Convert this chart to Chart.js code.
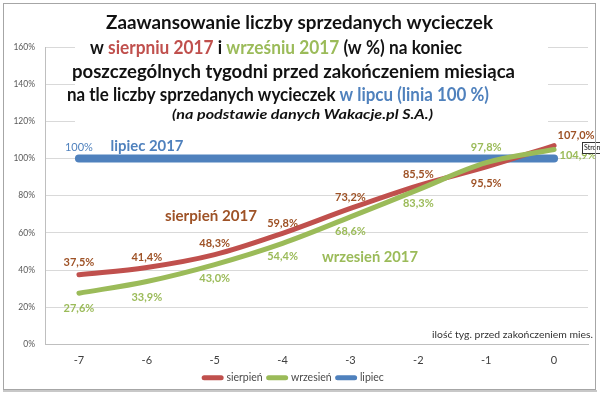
<!DOCTYPE html>
<html><head><meta charset="utf-8">
<script src="https://cdn.jsdelivr.net/npm/chart.js@4.4.1/dist/chart.umd.min.js"></script>
<style>html,body{margin:0;padding:0;background:#fff}#c{display:block}</style>
</head><body>
<canvas id="c" width="600" height="393" style="width:600px;height:393px"></canvas>
<script>
// ---- data ----
const categories = ['-7','-6','-5','-4','-3','-2','-1','0'];
const sierpien = [37.5, 41.4, 48.3, 59.8, 73.2, 85.5, 95.5, 107.0];
const wrzesien = [27.6, 33.9, 43.0, 54.4, 68.6, 83.3, 97.8, 104.9];
const lipiec = [100, 100, 100, 100, 100, 100, 100, 100];
const yTickValues = [0, 20, 40, 60, 80, 100, 120, 140, 160];
const seriesNames = ['sierpień', 'wrzesień', 'lipiec'];

// ---- styling / placement ----
const C_RED = '#C0504D', C_GREEN = '#9BBB59', C_BLUE = '#4F81BD', C_BROWN = '#9E5226';
const FONT = 'Lato, "Open Sans", sans-serif';
const labelOffsets = {
  0: [[0,-12],[0,-10],[0,-11],[0,-10],[0,-11],[0,-11],[0,17],[22,-10]],
  1: [[0,15],[0,16],[0,14],[0,13],[0,15],[0,14],[0,-15],[24,6]],
  2: [[0,-11]]
};

function fitSize(ctx, text, style, target, base) {
  ctx.font = style + ' ' + base + 'px ' + FONT;
  return base * target / ctx.measureText(text).width;
}

const overlay = {
  id: 'overlay',
  beforeDatasetsDraw(chart) {
    const ctx = chart.ctx;
    ctx.save();
    ctx.fillStyle = '#fff';
    ctx.fillRect(75, 5, 473, 123);
    // title: [left, right, baseline, segments]
    const lines = [
      {l: 106, r: 493, y: 29, s: [['Zaawansowanie liczby sprzedanych wycieczek', '#111']]},
      {l: 90, r: 462, y: 54, s: [['w ', '#111'], ['sierpniu 2017', C_RED], [' i ', '#111'], ['wrześniu 2017', C_GREEN], [' (w %) na koniec', '#111']]},
      {l: 72, r: 515, y: 78, s: [['poszczególnych tygodni przed zakończeniem miesiąca', '#111']]},
      {l: 67, r: 489, y: 101, s: [['na tle liczby sprzedanych wycieczek ', '#111'], ['w lipcu (linia 100 %)', C_BLUE]]},
      {l: 172, r: 433, y: 119, s: [['(na podstawie danych Wakacje.pl S.A.)', '#111']], italic: true}
    ];
    ctx.textBaseline = 'alphabetic';
    ctx.textAlign = 'left';
    lines.forEach(l => {
      ctx.font = (l.italic ? 'italic bold 13px ' : 'bold 19px ') + FONT;
      const w = l.s.reduce((a, p) => a + ctx.measureText(p[0]).width, 0);
      const k = (l.r - l.l) / w;
      ctx.save();
      ctx.translate(l.l, l.y);
      ctx.scale(k, 1);
      let x = 0;
      l.s.forEach(p => { ctx.fillStyle = p[1]; ctx.fillText(p[0], x, 0); x += ctx.measureText(p[0]).width; });
      ctx.restore();
    });
    ctx.restore();
  },
  afterDatasetsDraw(chart) {
    const ctx = chart.ctx;
    ctx.save();
    ctx.textAlign = 'center';
    ctx.textBaseline = 'middle';
    // data labels
    chart.data.datasets.forEach((ds, di) => {
      const meta = chart.getDatasetMeta(di);
      const offs = labelOffsets[di];
      ds.data.forEach((v, i) => {
        if (!offs[i]) return;
        const pt = meta.data[i];
        const txt = di === 2 ? v.toFixed(0) + '%' : v.toFixed(1).replace('.', ',') + '%';
        ctx.font = (di === 2 ? '' : 'bold ') + '11px ' + FONT;
        ctx.fillStyle = di === 0 ? C_BROWN : (di === 1 ? C_GREEN : C_BLUE);
        ctx.fillText(txt, pt.x + offs[i][0], pt.y + offs[i][1]);
      });
    });
    // series annotations
    const ann = [
      ['lipiec 2017', C_BLUE, 147, 146, 73],
      ['sierpień 2017', C_BROWN, 211, 216, 92],
      ['wrzesień 2017', C_GREEN, 370, 257, 96]
    ];
    ann.forEach(a => {
      const sz = fitSize(ctx, a[0], 'bold', a[4], 15);
      ctx.font = 'bold ' + sz + 'px ' + FONT;
      ctx.fillStyle = a[1];
      ctx.fillText(a[0], a[2], a[3]);
    });
    // axis note
    const nt = 'ilość tyg. przed zakończeniem mies.';
    const ns = fitSize(ctx, nt, '', 161, 10);
    ctx.font = ns + 'px ' + FONT;
    ctx.fillStyle = '#333';
    ctx.textAlign = 'right';
    ctx.fillText(nt, 593, 335);
    // tooltip artifact
    ctx.fillStyle = '#fff';
    ctx.fillRect(582, 142, 18, 12);
    ctx.strokeStyle = '#333';
    ctx.lineWidth = 1;
    ctx.strokeRect(582.5, 142.5, 20, 11);
    ctx.fillStyle = '#111';
    ctx.font = '7px ' + FONT;
    ctx.textAlign = 'left';
    ctx.fillText('Stron', 584, 148);
    ctx.restore();
  },
  afterDraw(chart) {
    const ctx = chart.ctx;
    ctx.save();
    ctx.strokeStyle = '#a6a6a6';
    ctx.lineWidth = 1;
    ctx.strokeRect(3.5, 3.5, 592, 386);
    ctx.fillStyle = '#c8c8c8';
    ctx.fillRect(3, 390, 594, 2);
    ctx.restore();
  }
};

new Chart(document.getElementById('c'), {
  type: 'line',
  data: {
    labels: categories,
    datasets: [
      {label: seriesNames[0], data: sierpien, borderColor: C_RED, backgroundColor: C_RED, borderWidth: 5, order: 1},
      {label: seriesNames[1], data: wrzesien, borderColor: C_GREEN, backgroundColor: C_GREEN, borderWidth: 5, order: 0},
      {label: seriesNames[2], data: lipiec, borderColor: C_BLUE, backgroundColor: C_BLUE, borderWidth: 8, order: 2}
    ]
  },
  options: {
    responsive: false,
    animation: false,
    events: [],
    elements: {
      line: {tension: 0.35, borderCapStyle: 'round', borderJoinStyle: 'round', fill: false},
      point: {radius: 0, hoverRadius: 0}
    },
    layout: {padding: {top: 47, right: 12, left: 0, bottom: 0}},
    scales: {
      x: {
        offset: true,
        grid: {display: false, drawTicks: false},
        border: {display: true, color: '#bfbfbf'},
        ticks: {color: '#404040', font: {family: FONT, size: 11}, padding: 9, maxRotation: 0},
        afterFit(s) { s.height = 22; }
      },
      y: {
        min: 0, max: 160,
        afterBuildTicks(s) { s.ticks = yTickValues.map(v => ({value: v})); },
        grid: {color: '#d9d9d9', drawTicks: false},
        border: {display: true, color: '#bfbfbf'},
        ticks: {color: '#595959', font: {family: FONT, size: 8.5}, padding: 10, callback: v => v + '%'},
        afterFit(s) { s.width = 45; }
      }
    },
    plugins: {
      tooltip: {enabled: false},
      title: {display: false},
      legend: {
        position: 'bottom',
        labels: {
          color: '#4a4a4a',
          font: {family: FONT, size: 10.5},
          usePointStyle: true,
          pointStyle: 'line',
          pointStyleWidth: 17,
          padding: 6,
          sort: (a, b) => a.datasetIndex - b.datasetIndex,
          generateLabels(chart) {
            const items = Chart.defaults.plugins.legend.labels.generateLabels(chart);
            items.forEach(it => { it.lineWidth = 5; it.lineCap = 'round'; it.pointStyle = 'line'; });
            return items;
          }
        }
      }
    }
  },
  plugins: [overlay]
});
</script>
</body></html>
